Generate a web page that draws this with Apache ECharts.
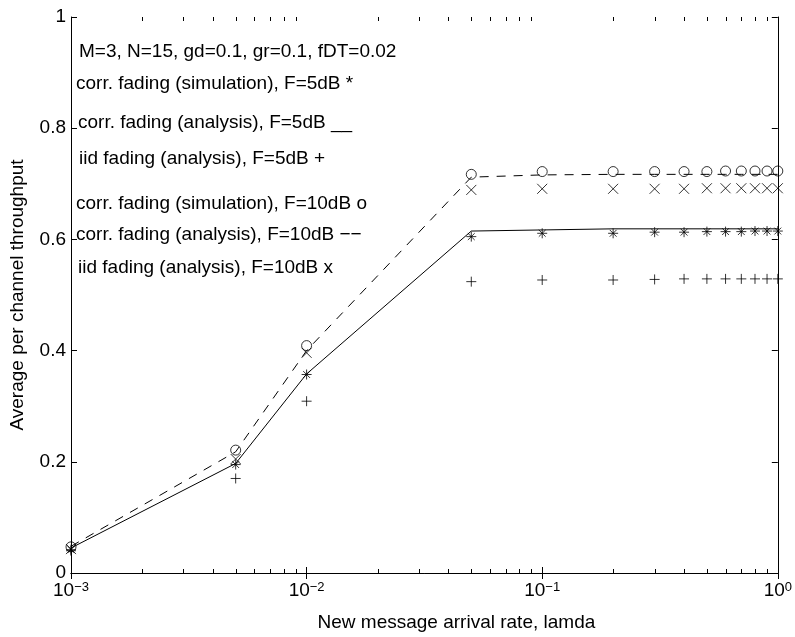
<!DOCTYPE html>
<html>
<head>
<meta charset="utf-8">
<script src="https://cdn.jsdelivr.net/npm/echarts@6/dist/echarts.min.js"></script>
<style>html,body{margin:0;padding:0;background:#fff}#c{width:795px;height:637px}</style>
</head>
<body>
<div id="c"></div>
<script>
// ---- data ----
var lamda = [0.001, 0.005, 0.01, 0.05, 0.1, 0.2, 0.3, 0.4, 0.5, 0.6, 0.7, 0.8, 0.9, 1.0];
var corrSim5 = [0.042, 0.195, 0.357, 0.605, 0.611, 0.611, 0.613, 0.613, 0.614, 0.614, 0.614, 0.615, 0.615, 0.615];
var corrAna5 = [0.045, 0.197, 0.358, 0.615, 0.617, 0.619, 0.619, 0.619, 0.619, 0.619, 0.619, 0.619, 0.619, 0.619];
var iid5 = [0.040, 0.170, 0.309, 0.524, 0.527, 0.527, 0.528, 0.529, 0.529, 0.529, 0.529, 0.529, 0.529, 0.529];
var corrSim10 = [0.047, 0.221, 0.409, 0.717, 0.722, 0.722, 0.722, 0.722, 0.722, 0.723, 0.723, 0.723, 0.723, 0.723];
var corrAna10 = [0.048, 0.218, 0.400, 0.712, 0.716, 0.717, 0.717, 0.717, 0.717, 0.717, 0.717, 0.717, 0.717, 0.717];
var iid10 = [0.043, 0.205, 0.396, 0.689, 0.691, 0.691, 0.691, 0.691, 0.692, 0.692, 0.692, 0.692, 0.692, 0.692];
var minorTicksX = [0.002,0.003,0.004,0.005,0.006,0.007,0.008,0.009,
                   0.02,0.03,0.04,0.05,0.06,0.07,0.08,0.09,
                   0.2,0.3,0.4,0.5,0.6,0.7,0.8,0.9];
var notes = [
  'M=3, N=15, gd=0.1, gr=0.1, fDT=0.02',
  'corr. fading (simulation), F=5dB *',
  'corr. fading (analysis), F=5dB __',
  'iid fading (analysis), F=5dB +',
  'corr. fading (simulation), F=10dB o',
  'corr. fading (analysis), F=10dB \u2212\u2212',
  'iid fading (analysis), F=10dB x'
];
var xName = 'New message arrival rate, lamda';
var yName = 'Average per channel throughput';

// ---- presentation ----
var FONT = '"Liberation Sans", Arial, Helvetica, sans-serif';
var notePos = [[79, 52], [76, 84], [78, 123], [79, 159], [76, 204], [76, 235], [78, 268]];
function pairs(ys) { return lamda.map(function (x, i) { return [x, ys[i]]; }); }
var SYM = {
  star: 'path://M5,0L5,10M0,5L10,5M1.6,1.6L8.4,8.4M8.4,1.6L1.6,8.4',
  plus: 'path://M5,0L5,10M0,5L10,5',
  cross: 'path://M0,0L10,10M10,0L0,10'
};
var markerStyle = { color: 'rgba(0,0,0,0)', borderColor: '#000', borderWidth: 1 };
function scatter(name, ys, symbol, size) {
  return { type: 'scatter', name: name, data: pairs(ys), symbol: symbol, symbolSize: size,
    itemStyle: markerStyle, emphasis: { disabled: true }, silent: true, z: 5 };
}
var chart = echarts.init(document.getElementById('c'), null, { renderer: 'canvas' });
var tickLabel = function (v) {
  var e = Math.round(Math.log10(v));
  return '10{s|' + (e < 0 ? '\u2212' + (-e) : e) + '}';
};
var axisCommon = {
  axisLine: { show: true, lineStyle: { color: '#000', width: 1 } },
  axisTick: { show: true, inside: true, length: 6, lineStyle: { color: '#000' } },
  splitLine: { show: false }
};
chart.setOption({
  animation: false,
  backgroundColor: '#fff',
  textStyle: { fontFamily: FONT },
  grid: { left: 65, right: 15, top: 17, bottom: 55, containLabel: false },
  xAxis: [
    Object.assign({ type: 'log', logBase: 10, min: 0.001, max: 1, position: 'bottom',
      name: xName, nameLocation: 'middle', nameGap: 40,
      nameTextStyle: { fontSize: 19, color: '#000', fontFamily: FONT, padding: [0, 0, 0, 64] },
      axisLabel: { formatter: tickLabel, margin: 8, color: '#000', fontSize: 19, fontFamily: FONT,
        rich: { s: { fontSize: 13, verticalAlign: 'top', lineHeight: 13, fontFamily: FONT, color: '#000' } } }
    }, axisCommon),
    Object.assign({ type: 'log', logBase: 10, min: 0.001, max: 1, position: 'top',
      axisLabel: { show: false } }, axisCommon)
  ],
  yAxis: [
    Object.assign({ type: 'value', min: 0, max: 1, interval: 0.2, position: 'left',
      name: yName, nameLocation: 'middle', nameGap: 44,
      nameTextStyle: { fontSize: 19, color: '#000', fontFamily: FONT },
      axisLabel: { margin: 5, color: '#000', fontSize: 19, fontFamily: FONT }
    }, axisCommon),
    Object.assign({ type: 'value', min: 0, max: 1, interval: 0.2, position: 'right',
      axisLabel: { show: false } }, axisCommon)
  ],
  series: [
    { type: 'custom', name: 'minorTicks', silent: true, clip: false,
      data: minorTicksX.map(function (v) { return [v, 0]; }),
      renderItem: function (params, api) {
        var b = api.coord([api.value(0), 0]);
        var t = api.coord([api.value(0), 1]);
        var x = Math.round(b[0]) + 0.5;
        return { type: 'group', children: [
          { type: 'line', shape: { x1: x, y1: b[1], x2: x, y2: b[1] - 4 }, style: { stroke: '#000', lineWidth: 1 } },
          { type: 'line', shape: { x1: x, y1: t[1], x2: x, y2: t[1] + 4 }, style: { stroke: '#000', lineWidth: 1 } }
        ] };
      } },
    { type: 'line', name: 'corr. fading (analysis), F=5dB', data: pairs(corrAna5), showSymbol: false,
      lineStyle: { color: '#000', width: 1, type: 'solid' }, silent: true, z: 3 },
    { type: 'line', name: 'corr. fading (analysis), F=10dB', data: pairs(corrAna10), showSymbol: false,
      lineStyle: { color: '#000', width: 1, type: [9, 8] }, silent: true, z: 3 },
    scatter('corr. fading (simulation), F=5dB', corrSim5, SYM.star, 10),
    scatter('iid fading (analysis), F=5dB', iid5, SYM.plus, 10),
    scatter('corr. fading (simulation), F=10dB', corrSim10, 'circle', 10),
    scatter('iid fading (analysis), F=10dB', iid10, SYM.cross, 10)
  ],
  graphic: notes.map(function (t, i) {
    return { type: 'text', x: notePos[i][0], y: notePos[i][1], silent: true,
      style: { text: t, fill: '#000', fontSize: 19, fontFamily: FONT, verticalAlign: 'middle', align: 'left' } };
  })
});
</script>
</body>
</html>
